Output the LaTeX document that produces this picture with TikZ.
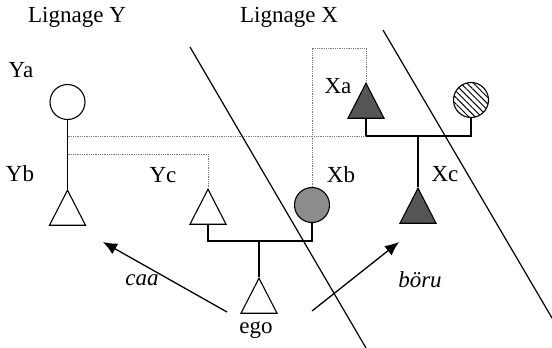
\documentclass[tikz,border=0pt]{standalone}
\usepackage{fontspec}
\setmainfont{Liberation Serif}
\usetikzlibrary{arrows.meta, shapes.geometric, patterns.meta, positioning}
\definecolor{lignegris}{HTML}{7A7A7A}
\definecolor{grisfonce}{HTML}{555555}
\definecolor{grismoyen}{HTML}{8C8C8C}

\tikzset{
  homme/.style={draw, line width=1.1pt, isosceles triangle, isosceles triangle apex angle=54,
    shape border rotate=90, isosceles triangle stretches, minimum width=36pt, minimum height=35pt, inner sep=0pt},
  femme/.style={draw, line width=1.1pt, circle, minimum size=35pt, inner sep=0pt},
  lbl/.style={font=\fontsize{23}{26}\selectfont},
  lien/.style={line width=1.1pt},
  alliance/.style={lignegris, line width=0.8pt, densely dotted},
  fleche/.style={line width=1.3pt, -{Latex[length=14pt,width=12pt]}},
  frontiere/.style={line width=1.2pt}
}

\begin{document}
\begin{tikzpicture}[x=1pt, y=-1pt]
  \useasboundingbox (0,0) rectangle (552,348);
  % Titres des lignages
  \node[lbl] (titrey) at (77,17) {Lignage Y};
  \node[lbl] (titrex) at (289,17) {Lignage X};
  % Lignage Y
  \node[femme] (ya) at (67.5,102) {};
  \node[homme, anchor=apex] (yb) at (67.5,189) {};
  \node[homme, anchor=apex] (yc) at (208,188) {};
  % Lignage X
  \node[homme, anchor=apex, fill=grisfonce] (xa) at (366,82) {};
  \node[femme, pattern={Lines[angle=-45, distance=4.5pt, line width=1pt]}] (xaf) at (471,100) {};
  \node[femme, fill=grismoyen] (xb) at (312,205) {};
  \node[homme, anchor=apex, fill=grisfonce] (xc) at (418,187) {};
  % ego
  \node[homme, anchor=apex] (ego) at (259,277) {};
  % Etiquettes
  \node[lbl] (lya) at (21,70) {Ya};
  \node[lbl] (lyb) at (20,174) {Yb};
  \node[lbl] (lyc) at (163,175) {Yc};
  \node[lbl] (lxa) at (338,86) {Xa};
  \node[lbl] (lxb) at (341,175) {Xb};
  \node[lbl] (lxc) at (445,174) {Xc};
  \node[lbl] (lego) at (256,330) {ego};
  \node[lbl, font=\fontsize{23}{26}\selectfont\itshape] (lcaa) at (142,280) {caa};
  \node[lbl, font=\fontsize{23}{26}\selectfont\itshape] (lboru) at (420,280) {böru};
  % Reperes
  \coordinate (mariage) at (418,136);
  \coordinate (fratrie) at (259,241);
  \coordinate (cousin) at (0,154);
  \coordinate (haut) at (340,48);
  % Filiation
  \draw[lien] (ya.south) -- (yb.apex);
  \draw[lien] (xa.lower side) |- (mariage) -| (xaf.south);
  \draw[lien] (mariage) -- (xc.apex);
  \draw[lien] (yc.lower side) |- (fratrie) -| (xb.south);
  \draw[lien] (fratrie) -- (ego.apex);
  % Alliances en pointille
  \draw[alliance] (ya.south |- mariage) -- (xa.lower side |- mariage);
  \draw[alliance] (ya.south |- cousin) -| (yc.apex);
  \draw[alliance] (xb.north) -- (xb.north |- haut) -| (xa.apex);
  % Fleches
  \coordinate (caadep) at (227,312);
  \coordinate (caafin) at (103,242);
  \coordinate (borudep) at (312,311);
  \coordinate (borufin) at (399,242);
  \draw[fleche] (caadep) -- (caafin);
  \draw[fleche] (borudep) -- (borufin);
  % Frontieres des lignages
  \draw[frontiere] (190,47) -- (366,348);
  \draw[frontiere] (383,30) -- (552,318);
\end{tikzpicture}
\end{document}
